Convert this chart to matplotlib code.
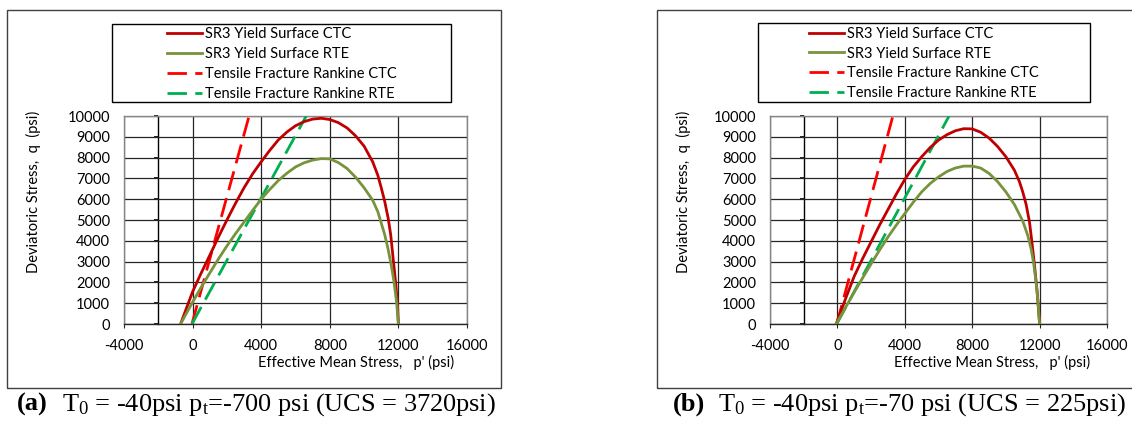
import matplotlib
matplotlib.use("Agg")
import matplotlib.pyplot as plt
from matplotlib.patches import Rectangle
from matplotlib.lines import Line2D

# ---------------- data ----------------
# panel (a): T0 = -40 psi, pt = -700 psi
a_ctc_p = [-700, -350, 0, 500, 1000, 1500, 2000, 2500, 3000, 3500, 4000, 4500, 5000, 5500,
           6000, 6500, 7000, 7500, 8000, 8500, 9000, 9500, 10000, 10500, 10800, 11000,
           11200, 11400, 11550, 11700, 11850, 11950, 12000]
a_ctc_q = [0, 780, 1550, 2450, 3300, 4170, 5000, 5800, 6550, 7220, 7800, 8350, 8850, 9230,
           9530, 9730, 9850, 9890, 9830, 9680, 9430, 9050, 8550, 7800, 7150, 6550,
           5900, 5100, 4300, 3100, 1900, 900, 0]
a_rte_p = [-700, -350, 0, 500, 1000, 1500, 2000, 2500, 3000, 3500, 4000, 4500, 5000, 5500,
           6000, 6500, 7000, 7500, 8000, 8500, 9000, 9500, 10000, 10500, 10800, 11000,
           11200, 11400, 11600, 11750, 11900, 12000]
a_rte_q = [0, 530, 1050, 1770, 2450, 3120, 3750, 4340, 4900, 5460, 6000, 6470, 6900, 7250,
           7550, 7750, 7880, 7950, 7940, 7760, 7480, 7060, 6550, 5950, 5400, 4850,
           4300, 3600, 2750, 2000, 1000, 0]

# panel (b): T0 = -40 psi, pt = -70 psi
b_ctc_p = [-70, 500, 1000, 1500, 2000, 2500, 3000, 3500, 4000, 4500, 5000, 5500, 6000,
           6500, 7000, 7500, 8000, 8500, 9000, 9500, 10000, 10500, 10800, 11000, 11200,
           11400, 11550, 11700, 11850, 12000]
b_ctc_q = [0, 1250, 2300, 3150, 3950, 4750, 5500, 6250, 6950, 7550, 8040, 8480, 8840,
           9100, 9290, 9390, 9380, 9220, 8940, 8540, 8040, 7400, 6850, 6350, 5750,
           4900, 3900, 2800, 1600, 0]
b_rte_p = [-70, 500, 1000, 1500, 2000, 2500, 3000, 3500, 4000, 4500, 5000, 5500, 6000,
           6500, 7000, 7500, 8000, 8500, 9000, 9500, 10000, 10500, 11000, 11300, 11500,
           11650, 11800, 11900, 12000]
b_rte_q = [0, 820, 1530, 2220, 2890, 3550, 4180, 4760, 5310, 5850, 6350, 6750, 7070,
           7330, 7500, 7590, 7590, 7500, 7240, 6850, 6350, 5750, 4950, 4250, 3600,
           2900, 1950, 1100, 0]

# tensile fracture (Rankine) straight lines, same in both panels
rk_ctc_p = [-40, 3293]
rk_ctc_q = [0, 10000]
rk_rte_p = [-40, 6627]
rk_rte_q = [0, 10000]

x_ticks = [-4000, 0, 4000, 8000, 12000, 16000]
y_ticks = list(range(0, 10001, 1000))

labels = ["SR3 Yield Surface CTC", "SR3 Yield Surface RTE",
          "Tensile Fracture Rankine CTC", "Tensile Fracture Rankine RTE"]
captions_tag = ["(a)", "(b)"]
captions = ["T$_0$ = -40psi p$_t$=-700 psi (UCS = 3720psi)",
            "T$_0$ = -40psi p$_t$=-70 psi (UCS = 225psi)"]
xlabel = "Effective Mean Stress,   p' (psi)"
ylabel = "Deviatoric Stress,  q  (psi)"

# ---------------- style ----------------
C_CTC = "#C00000"
C_RTE = "#77933C"
C_RK_CTC = "#FF0000"
C_RK_RTE = "#00B050"
FONT = "Lato"
FS = 10.5

plt.rcParams["mathtext.fontset"] = "custom"
plt.rcParams["mathtext.rm"] = "Liberation Serif"
plt.rcParams["mathtext.default"] = "regular"
plt.rcParams["axes.unicode_minus"] = False

W, H = 1132, 422
fig = plt.figure(figsize=(W / 100, H / 100), dpi=100)


def fx(px):
    return px / W


def fy(py):
    return 1 - py / H


panels = [
    dict(ax=(124, 116, 467, 324), box=(7, 10, 501, 388), leg=(112, 24, 451, 102),
         ylab=(33, 192), xlab=(356, 362), tag=17, cap=62,
         ctc=(a_ctc_p, a_ctc_q), rte=(a_rte_p, a_rte_q)),
    dict(ax=(770, 116, 1107, 324), box=(657, 10, 1145, 388), leg=(758, 23, 1090, 102),
         ylab=(683, 192), xlab=(992, 362), tag=673, cap=718,
         ctc=(b_ctc_p, b_ctc_q), rte=(b_rte_p, b_rte_q)),
]

for i, P in enumerate(panels):
    x0, y0, x1, y1 = P["ax"]
    ax = fig.add_axes([fx(x0), fy(y1), fx(x1) - fx(x0), fy(y0) - fy(y1)])
    ax.set_xlim(-4000, 16000)
    ax.set_ylim(0, 10000)
    ax.set_xticks(x_ticks)
    ax.set_yticks(y_ticks)
    ax.grid(True, color="#262626", linewidth=0.9)
    ax.set_axisbelow(True)
    for s in ax.spines.values():
        s.set_color("#868686")
        s.set_linewidth(1.0)
    ax.spines["bottom"].set_color("#262626")
    ax.tick_params(axis="y", length=0, pad=10, labelsize=FS)
    ax.tick_params(axis="x", length=3, direction="out", color="#262626", pad=8, labelsize=FS)
    for t in ax.get_xticklabels() + ax.get_yticklabels():
        t.set_fontfamily(FONT)

    # vertical axis line crossing at p = -2000
    sec = ax.secondary_yaxis(0.1)
    sec.set_yticks(y_ticks)
    sec.yaxis.set_ticks_position("left")
    sec.tick_params(axis="y", direction="out", length=3, width=1.2, color="black",
                    labelleft=False, labelright=False)
    for s in sec.spines.values():
        s.set_color("black")
        s.set_linewidth(1.0)

    p, q = P["ctc"]
    ax.plot(p, q, color=C_CTC, lw=2.0, solid_joinstyle="round", zorder=4)
    p, q = P["rte"]
    ax.plot(p, q, color=C_RTE, lw=2.0, solid_joinstyle="round", zorder=4)
    ax.plot(rk_ctc_p, rk_ctc_q, color=C_RK_CTC, lw=2.0, dashes=(7, 3), zorder=3)
    ax.plot(rk_rte_p, rk_rte_q, color=C_RK_RTE, lw=2.0, dashes=(7, 3), zorder=3)

    # axis titles
    fig.text(fx(P["ylab"][0]), fy(P["ylab"][1]), ylabel, rotation=90, ha="center",
             va="center", fontsize=FS, fontfamily=FONT)
    fig.text(fx(P["xlab"][0]), fy(P["xlab"][1]), xlabel, ha="center", va="center",
             fontsize=FS, fontfamily=FONT)

    # legend box
    lx0, ly0, lx1, ly1 = P["leg"]
    fig.add_artist(Rectangle((fx(lx0), fy(ly1)), fx(lx1) - fx(lx0), fy(ly0) - fy(ly1),
                             transform=fig.transFigure, fill=False, edgecolor="black",
                             linewidth=1.0))
    handles = [Line2D([], [], color=C_CTC, lw=2.0),
               Line2D([], [], color=C_RTE, lw=2.0),
               Line2D([], [], color=C_RK_CTC, lw=2.0, dashes=(7, 3)),
               Line2D([], [], color=C_RK_RTE, lw=2.0, dashes=(7, 3))]
    fig.legend(handles, labels, loc="center",
               bbox_to_anchor=(fx((lx0 + lx1) / 2), fy((ly0 + ly1) / 2 + 1)),
               frameon=False, prop=dict(family=FONT, size=FS), handlelength=2.4,
               handletextpad=0.2, labelspacing=0.4, borderpad=0.2)

    # outer panel frame
    bx0, by0, bx1, by1 = P["box"]
    fig.add_artist(Rectangle((fx(bx0), fy(by1)), fx(bx1) - fx(bx0), fy(by0) - fy(by1),
                             transform=fig.transFigure, fill=False, edgecolor="#404040",
                             linewidth=1.0, clip_on=False))

    # caption
    fig.text(fx(P["tag"]), fy(411), captions_tag[i], fontsize=19, fontweight="bold",
             fontfamily="Liberation Serif", va="baseline", ha="left")
    fig.text(fx(P["cap"]), fy(411), captions[i], fontsize=19,
             fontfamily="Liberation Serif", va="baseline", ha="left")

fig.savefig("out.png", dpi=100)
